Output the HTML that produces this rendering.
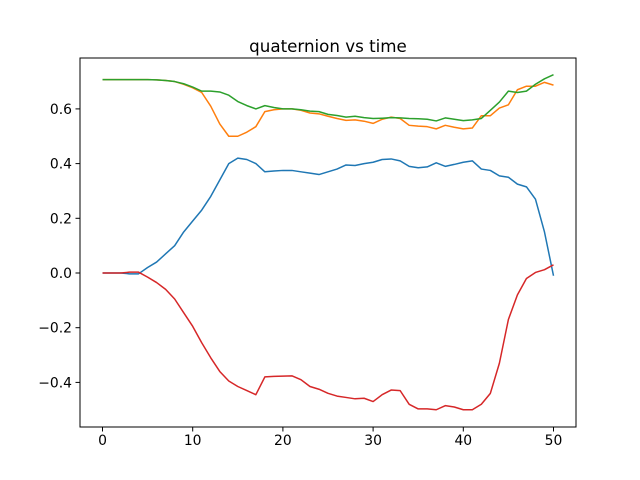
<!DOCTYPE html>
<html><head><meta charset="utf-8"><style>
body{margin:0;background:#fff}
svg{display:block}
text{font-family:"DejaVu Sans","Liberation Sans",sans-serif}
</style></head><body>
<svg id="chart" width="640" height="480">
<rect width="640" height="480" fill="#fff"/>
<text x="328" y="52" font-size="16.7" text-anchor="middle">quaternion vs time</text>
<g id="plot"></g>
<rect x="80" y="58" width="496" height="369" fill="none" stroke="#000" stroke-width="1"/>
</svg>
<script>
const times=[0,1,2,3,4,5,6,7,8,9,10,11,12,13,14,15,16,17,18,19,20,21,22,23,24,25,26,27,28,29,30,31,32,33,34,35,36,37,38,39,40,41,42,43,44,45,46,47,48,49,50];
const q0=[0,0,0,-0.003,-0.003,0.02,0.04,0.07,0.1,0.15,0.19,0.23,0.28,0.34,0.4,0.42,0.415,0.4,0.37,0.373,0.375,0.375,0.37,0.365,0.36,0.37,0.38,0.395,0.393,0.4,0.405,0.415,0.417,0.41,0.39,0.385,0.388,0.403,0.39,0.397,0.405,0.41,0.38,0.375,0.355,0.35,0.325,0.315,0.27,0.15,-0.01];
const q1=[0.707,0.707,0.707,0.707,0.707,0.707,0.706,0.704,0.7,0.69,0.677,0.66,0.61,0.545,0.5,0.5,0.515,0.535,0.59,0.597,0.6,0.6,0.595,0.585,0.582,0.573,0.565,0.558,0.56,0.555,0.547,0.562,0.57,0.565,0.54,0.537,0.535,0.527,0.54,0.533,0.527,0.53,0.575,0.575,0.603,0.615,0.67,0.683,0.683,0.697,0.687];
const q2=[0.707,0.707,0.707,0.707,0.707,0.707,0.706,0.704,0.7,0.692,0.68,0.665,0.665,0.662,0.65,0.627,0.612,0.6,0.612,0.605,0.6,0.6,0.597,0.592,0.59,0.58,0.576,0.57,0.573,0.568,0.565,0.566,0.568,0.567,0.565,0.564,0.562,0.556,0.567,0.562,0.557,0.56,0.565,0.595,0.625,0.665,0.66,0.665,0.69,0.71,0.725];
const q3=[0,0,0,0.003,0.003,-0.015,-0.035,-0.06,-0.095,-0.145,-0.195,-0.255,-0.31,-0.36,-0.395,-0.415,-0.43,-0.445,-0.38,-0.378,-0.377,-0.376,-0.39,-0.415,-0.425,-0.44,-0.45,-0.455,-0.46,-0.458,-0.47,-0.445,-0.428,-0.43,-0.48,-0.497,-0.497,-0.5,-0.485,-0.49,-0.5,-0.5,-0.48,-0.44,-0.33,-0.17,-0.08,-0.02,0.002,0.012,0.03];
const xTicks=[0,10,20,30,40,50];
const yTicks=[-0.4,-0.2,0.0,0.2,0.4,0.6];
const yTickLabels=["\u22120.4","\u22120.2","0.0","0.2","0.4","0.6"];
const X=t=>102.5+t*9.02;
const Y=v=>273-v*273.5;
const NS="http://www.w3.org/2000/svg";
const g=document.getElementById('plot');
xTicks.forEach(t=>{
  const l=document.createElementNS(NS,'line');
  l.setAttribute('x1',X(t));l.setAttribute('x2',X(t));l.setAttribute('y1',427);l.setAttribute('y2',431.5);l.setAttribute('stroke','#000');
  
  
  g.appendChild(l);
  const tx=document.createElementNS(NS,'text');
  tx.setAttribute('x',X(t));tx.setAttribute('y',445);tx.setAttribute('font-size','13.9');tx.setAttribute('text-anchor','middle');
  tx.textContent=t;
  
  
  g.appendChild(tx);
});
yTicks.forEach((v,i)=>{
  const l=document.createElementNS(NS,'line');
  l.setAttribute('x1',75.5);l.setAttribute('x2',80);l.setAttribute('y1',Y(v));l.setAttribute('y2',Y(v));l.setAttribute('stroke','#000');
  
  
  g.appendChild(l);
  const tx=document.createElementNS(NS,'text');
  tx.setAttribute('x',72);tx.setAttribute('y',Y(v)+5);tx.setAttribute('font-size','13.9');tx.setAttribute('text-anchor','end');
  tx.textContent=yTickLabels[i];
  
  
  g.appendChild(tx);
});
const series=[[q0,'#1f77b4','series-q0'],[q1,'#ff7f0e','series-q1'],[q2,'#2ca02c','series-q2'],[q3,'#d62728','series-q3']];
series.forEach(([d,c,n])=>{
  const p=document.createElementNS(NS,'polyline');
  p.setAttribute('points',d.map((v,i)=>X(times[i])+','+Y(v)).join(' '));
  p.setAttribute('fill','none');p.setAttribute('stroke',c);p.setAttribute('stroke-width','1.5');p.setAttribute('stroke-linejoin','round');
  
  
  g.appendChild(p);
});
</script>
</body></html>
